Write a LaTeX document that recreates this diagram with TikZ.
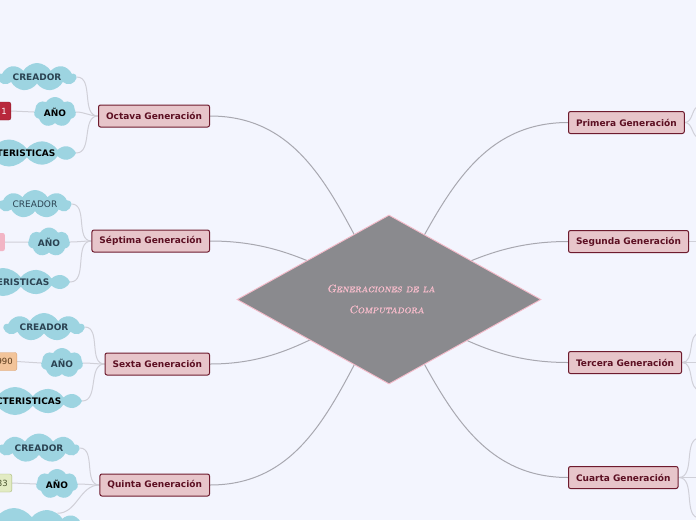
\documentclass[tikz,border=0pt]{standalone}
\usepackage{fontspec}
\newfontfamily\dvs{DejaVu Sans}
\newfontfamily\capsfont{lmromancaps10-oblique}[Extension=.otf,FakeBold=1.2]
\usetikzlibrary{shapes.geometric,shapes.symbols}
\definecolor{bgc}{HTML}{F3F5FE}
\definecolor{diamfill}{HTML}{8A8A8E}
\definecolor{diampink}{HTML}{F5BAC9}
\definecolor{titlepink}{HTML}{F7BCCB}
\definecolor{boxfill}{HTML}{E7C5CA}
\definecolor{boxborder}{HTML}{6E1B2E}
\definecolor{boxtext}{HTML}{5C0F22}
\definecolor{mainline}{HTML}{A8A8B0}
\definecolor{subline}{HTML}{D0D0D8}
\definecolor{cloudc}{HTML}{9DD4E1}
\definecolor{slate}{HTML}{2B4352}
\definecolor{yred}{HTML}{B8283C}
\definecolor{yredb}{HTML}{8E1A2A}
\definecolor{ypink}{HTML}{F2B5C5}
\definecolor{yorange}{HTML}{F2C49A}
\definecolor{yorangeb}{HTML}{D9A070}
\definecolor{yorant}{HTML}{5A3A1A}
\definecolor{ygreen}{HTML}{E2EBC3}
\definecolor{ygreenb}{HTML}{A9B97A}
\definecolor{ygreent}{HTML}{4A5530}
\pgfdeclarelayer{bg}
\pgfdeclarelayer{lines}
\pgfsetlayers{bg,lines,main}
\tikzset{
  gen/.style={rounded corners=2pt, draw=boxborder, line width=1pt, fill=boxfill,
    text=boxtext, font=\dvs\bfseries\fontsize{9}{10}\selectfont,
    minimum height=22pt, inner xsep=7.5pt, inner ysep=0pt},
  cl/.style={shape=cloud, cloud puffs=9, cloud puff arc=120, cloud ignores aspect,
    fill=cloudc, draw=none,
    inner sep=0pt, text=slate, font=\dvs\bfseries\fontsize{9}{10}\selectfont},
  clsmall/.style={cl, cloud puffs=7, minimum width=42pt, minimum height=30pt},
  clwide/.style={cl, cloud puffs=12, cloud puff arc=110, minimum width=134pt},
  yr/.style={anchor=east, rounded corners=2pt, minimum height=18pt, text width=28pt,
    align=right, inner xsep=4pt, inner ysep=0pt, font=\dvs\fontsize{8.5}{10}\selectfont},
  mline/.style={draw=mainline, line width=1pt},
  sline/.style={draw=subline, line width=1pt},
  diam/.style={shape=diamond, minimum width=304pt, minimum height=169pt, inner sep=0pt,
    aspect=1.8, fill=diamfill, draw=diampink, line width=0.9pt}
}
\begin{document}
\begin{tikzpicture}[x=1pt,y=-1pt]
\useasboundingbox (0,0) rectangle (696,520);
\begin{pgfonlayer}{bg}
\fill[bgc] (0,0) rectangle (696,520);
\end{pgfonlayer}

% centre
\node[diam] (cen) at (389,299.5) {};
\node[text=titlepink, font=\capsfont\fontsize{10.8}{21}\selectfont, align=left] (title) at (381,299)
  {Generaciones de la\\\hspace{22pt}Computadora};

% generation boxes
\node[gen, anchor=east] (g8) at (210,116) {Octava Generación};
\node[gen, anchor=east] (g7) at (210,241) {Séptima Generación};
\node[gen, anchor=east] (g6) at (210,364) {Sexta Generación};
\node[gen, anchor=east] (g5) at (210,485) {Quinta Generación};
\node[gen, anchor=west] (g1) at (568,122.5) {Primera Generación};
\node[gen, anchor=west] (g2) at (568,241.5) {Segunda Generación};
\node[gen, anchor=west] (g3) at (568,362.5) {Tercera Generación};
\node[gen, anchor=west] (g4) at (568,477.5) {Cuarta Generación};

% Octava children
\node[cl, minimum width=78pt, minimum height=28pt] (c8a) at (37,77) {CREADOR};
\node[clsmall, text=black] (c8b) at (55,112) {AÑO};
\node[clwide, text=black, minimum height=27pt] (c8c) at (9,153) {CARACTERISTICAS};
\node[yr, fill=yred, draw=yredb, text=white] (y8) at (11,111) {1};

% Septima children
\node[cl, font=\dvs\fontsize{9}{10}\selectfont, minimum width=72pt, minimum height=28pt] (c7a) at (35,204) {CREADOR};
\node[clsmall, minimum height=29pt] (c7b) at (49,242) {AÑO};
\node[clwide, minimum height=28pt] (c7c) at (3,282) {CARACTERISTICAS};
\node[yr, fill=ypink] (y7) at (5,242) {};

% Sexta children
\node[cl, minimum width=80pt, minimum height=28pt] (c6a) at (44,327) {CREADOR};
\node[clsmall] (c6b) at (62,363) {AÑO};
\node[clwide, text=black, minimum height=28pt] (c6c) at (15,401) {CARACTERISTICAS};
\node[yr, fill=yorange, draw=yorangeb, text=yorant] (y6) at (17,361.5) {990};

% Quinta children
\node[cl, minimum width=80pt, minimum height=29pt] (c5a) at (39,448) {CREADOR};
\node[clsmall, text=black] (c5b) at (57,484) {AÑO};
\node[clwide, minimum height=30pt] (c5c) at (14,523) {};
\node[yr, fill=ygreen, draw=ygreenb, text=ygreent] (y5) at (12,483) {83};

% stub ends on the right
\coordinate (r1a) at (700,106);
\coordinate (r1b) at (700,138);
\coordinate (r2) at (700,241.5);
\coordinate (r3a) at (700,333);
\coordinate (r3b) at (700,362.5);
\coordinate (r3c) at (700,390);
\coordinate (r4a) at (700,438);
\coordinate (r4b) at (700,477.5);
\coordinate (r4c) at (700,518);

\begin{pgfonlayer}{lines}
\draw[mline] (g8.east) to[out=0,in=120] (cen.center);
\draw[mline] (g7.east) to[out=0,in=155] (cen.center);
\draw[mline] (g6.east) to[out=0,in=205] (cen.center);
\draw[mline] (g5.east) to[out=0,in=240] (cen.center);
\draw[mline] (g1.west) to[out=180,in=60] (cen.center);
\draw[mline] (g2.west) to[out=180,in=25] (cen.center);
\draw[mline] (g3.west) to[out=180,in=-28] (cen.center);
\draw[mline] (g4.west) to[out=180,in=-60] (cen.center);

\draw[sline] (g8.west) to[out=180,in=0] (c8a.east);
\draw[sline] (g8.west) to[out=180,in=0] (c8b.east);
\draw[sline] (g8.west) to[out=180,in=0] (c8c.east);
\draw[sline] (c8b.west) -- (y8.east);
\draw[sline] (g7.west) to[out=180,in=0] (c7a.east);
\draw[sline] (g7.west) to[out=180,in=0] (c7b.east);
\draw[sline] (g7.west) to[out=180,in=0] (c7c.east);
\draw[sline] (c7b.west) -- (y7.east);
\draw[sline] (g6.west) to[out=180,in=0] (c6a.east);
\draw[sline] (g6.west) to[out=180,in=0] (c6b.east);
\draw[sline] (g6.west) to[out=180,in=0] (c6c.east);
\draw[sline] (c6b.west) -- (y6.east);
\draw[sline] (g5.west) to[out=180,in=0] (c5a.east);
\draw[sline] (g5.west) to[out=180,in=0] (c5b.east);
\draw[sline] (g5.west) to[out=180,in=0] (c5c.north east);
\draw[sline] (c5b.west) -- (y5.east);

\draw[sline] (g1.east) to[out=0,in=180] (r1a);
\draw[sline] (g1.east) to[out=0,in=180] (r1b);
\draw[sline] (g2.east) -- (r2);
\draw[sline] (g3.east) to[out=0,in=180] (r3a);
\draw[sline] (g3.east) -- (r3b);
\draw[sline] (g3.east) to[out=0,in=180] (r3c);
\draw[sline] (g4.east) to[out=0,in=180] (r4a);
\draw[sline] (g4.east) -- (r4b);
\draw[sline] (g4.east) to[out=0,in=180] (r4c);
\end{pgfonlayer}
\end{tikzpicture}
\end{document}
